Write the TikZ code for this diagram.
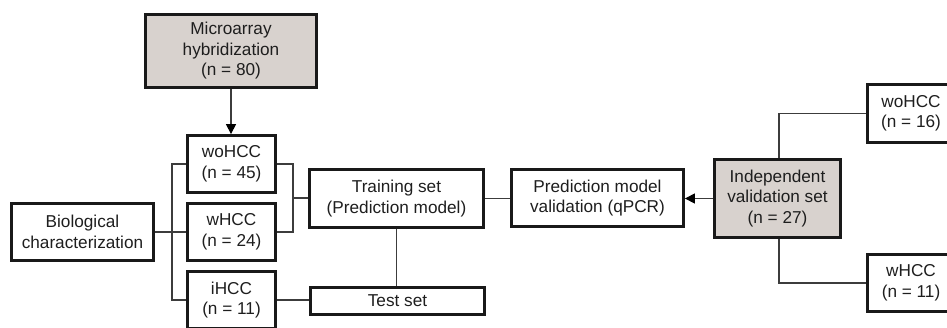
\documentclass[tikz,border=0pt]{standalone}
\usepackage{fontspec}
\setmainfont{Liberation Sans}
\usetikzlibrary{arrows.meta}
\definecolor{boxgray}{RGB}{216,210,206}
\definecolor{txt}{RGB}{30,30,30}
\definecolor{ln}{RGB}{60,60,60}
\tikzset{
  box/.style={draw=black!90, line width=2.8pt, align=center, inner sep=0pt,
    font=\fontsize{17.2}{20.5}\selectfont, text=txt},
  grayb/.style={box, fill=boxgray},
  conn/.style={draw=ln, line width=1.2pt},
  arr/.style={conn, -{Triangle[length=10pt,width=10pt,color=black]}},
}
\begin{document}
\begin{tikzpicture}[x=1pt,y=-1pt]
\useasboundingbox (0,0) rectangle (947,327);
\clip (0,0) rectangle (947,327);
\node[grayb, minimum width=171pt, minimum height=73pt] (micro) at (231,51) {Microarray\\hybridization\\(n = 80)};
\node[box, minimum width=88pt, minimum height=57pt] (wo1) at (231.5,164) {woHCC\\(n = 45)};
\node[box, minimum width=88pt, minimum height=57pt] (w1) at (231.5,232) {wHCC\\(n = 24)};
\node[box, minimum width=88pt, minimum height=57pt] (i1) at (231.5,300) {iHCC\\(n = 11)};
\node[box, minimum width=142pt, minimum height=57pt] (bio) at (82.5,232) {Biological\\characterization};
\node[box, minimum width=174pt, minimum height=58pt] (train) at (396.5,198.5) {Training set\\(Prediction model)};
\node[box, minimum width=174pt, minimum height=27pt] (test) at (397.5,301) {Test set};
\node[box, minimum width=172pt, minimum height=57pt] (pred) at (597.5,198) {Prediction model\\validation (qPCR)};
\node[grayb, minimum width=126pt, minimum height=78pt] (indep) at (777.5,198.5) {Independent\\validation set\\(n = 27)};
\node[box, minimum width=87pt, minimum height=58pt] (wo2) at (911,113.5) {woHCC\\(n = 16)};
\node[box, minimum width=87pt, minimum height=57pt] (w2) at (911,283) {wHCC\\(n = 11)};
\coordinate (bl) at (172,232);
\coordinate (br) at (293,198);
\draw[arr] (micro.south) -- (micro.south |- wo1.north);
\draw[conn] (bio.east) -- (w1.west);
\draw[conn] (wo1.west) -| (bl) |- (i1.west);
\draw[conn] (wo1.east) -| (br) |- (w1.east);
\draw[conn] (br) -- (br -| train.west);
\draw[conn] (train.south) -- (train.south |- test.north);
\draw[conn] (i1.east) -- (i1.east -| test.west);
\draw[conn] (train.east) -- (train.east -| pred.west);
\draw[arr] (indep.west) -- (indep.west -| pred.east);
\draw[conn] ([xshift=1.5pt]indep.north) |- (wo2.west);
\draw[conn] ([xshift=1.5pt]indep.south) |- (w2.west);
\end{tikzpicture}
\end{document}
